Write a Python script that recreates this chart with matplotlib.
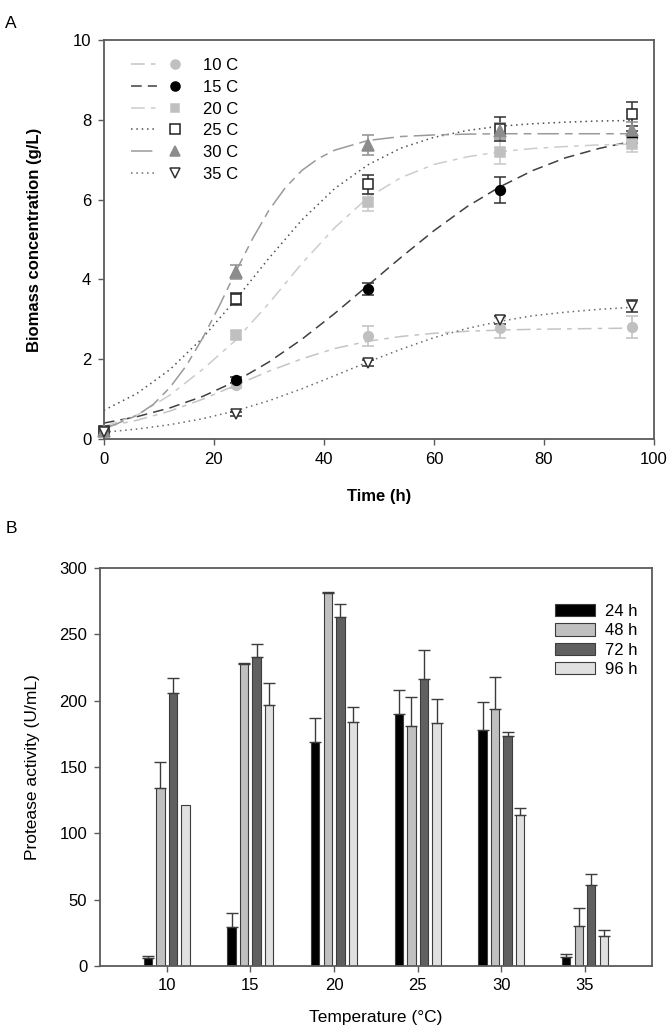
import matplotlib.pyplot as plt
from matplotlib.legend_handler import HandlerTuple
from matplotlib.lines import Line2D
import numpy as np

plt.rcParams['font.family'] = ['Liberation Sans', 'DejaVu Sans']

# ---- Panel A: biomass concentration over time ----
temps = ['10 C', '15 C', '20 C', '25 C', '30 C', '35 C']
time_pts = [0, 24, 48, 72, 96]
biomass = {
    '10 C': [0.20, 1.35, 2.59, 2.78, 2.80],
    '15 C': [0.20, 1.48, 3.75, 6.24, 7.56],
    '20 C': [0.20, 2.60, 5.93, 7.18, 7.39],
    '25 C': [0.20, 3.50, 6.38, 7.76, 8.14],
    '30 C': [0.20, 4.19, 7.37, 7.72, 7.74],
    '35 C': [0.18, 0.63, 1.91, 2.98, 3.34],
}
biomass_err = {
    '10 C': [0.03, 0.06, 0.25, 0.25, 0.28],
    '15 C': [0.03, 0.08, 0.15, 0.33, 0.15],
    '20 C': [0.03, 0.10, 0.22, 0.30, 0.20],
    '25 C': [0.03, 0.15, 0.23, 0.30, 0.30],
    '30 C': [0.03, 0.18, 0.25, 0.20, 0.20],
    '35 C': [0.03, 0.05, 0.07, 0.10, 0.15],
}

# fitted growth curves, every 6 h (every 3 h where steep)
t_fit = [0, 6, 12, 18, 24, 30, 36, 42, 48, 54, 60, 66, 72, 78, 84, 90, 96]
fit_curves = {
    '10 C': [0.30, 0.47, 0.70, 1.00, 1.35, 1.70, 2.01, 2.27, 2.45, 2.57, 2.65, 2.70, 2.73, 2.75, 2.76, 2.77, 2.78],
    '15 C': [0.40, 0.56, 0.78, 1.07, 1.45, 1.93, 2.50, 3.15, 3.85, 4.55, 5.22, 5.82, 6.32, 6.73, 7.05, 7.28, 7.46],
    '20 C': [0.31, 0.60, 1.10, 1.75, 2.48, 3.40, 4.40, 5.30, 6.05, 6.55, 6.88, 7.07, 7.20, 7.28, 7.33, 7.37, 7.39],
    '25 C': [0.72, 1.14, 1.74, 2.54, 3.50, 4.53, 5.49, 6.28, 6.87, 7.29, 7.56, 7.73, 7.84, 7.90, 7.94, 7.97, 7.98],
    '35 C': [0.17, 0.25, 0.36, 0.51, 0.71, 0.96, 1.26, 1.59, 1.93, 2.25, 2.54, 2.77, 2.95, 3.09, 3.18, 3.25, 3.30],
}
t_fit_30 = [0, 6, 9, 12, 15, 18, 21, 24, 27, 30, 33, 36, 39, 42, 48, 54, 60, 66, 72, 84, 96]
fit_30 = [0.25, 0.59, 0.87, 1.29, 1.84, 2.54, 3.34, 4.20, 5.01, 5.73, 6.30, 6.73, 7.03, 7.24, 7.48, 7.58, 7.62, 7.64, 7.65, 7.65, 7.65]

# ---- Panel B: protease activity ----
temp_c = [10, 15, 20, 25, 30, 35]
hours = ['24 h', '48 h', '72 h', '96 h']
protease = {
    '24 h': [6, 29, 169, 190, 178, 6.5],
    '48 h': [134, 228, 281, 181, 193.5, 30],
    '72 h': [206, 233, 263, 216, 173, 61],
    '96 h': [121, 196.5, 184, 183, 114, 22.4],
}
protease_err = {
    '24 h': [1.5, 11, 18, 18, 21, 2.5],
    '48 h': [19.5, 0.5, 1, 22, 24, 13.5],
    '72 h': [11, 10, 10, 22, 3, 8],
    '96 h': [0, 17, 11, 18, 5, 5],
}

# styles
line_style = {
    '10 C': dict(color='#c4c4c4', dashes=(9, 4, 3, 4)),
    '15 C': dict(color='#404040', dashes=(7, 4)),
    '20 C': dict(color='#cccccc', dashes=(9, 4, 3, 4)),
    '25 C': dict(color='#505050', dashes=(1, 2.5)),
    '30 C': dict(color='#9a9a9a', dashes=(14, 4, 5, 4)),
    '35 C': dict(color='#6a6a6a', dashes=(1, 2.5)),
}
marker_style = {
    '10 C': dict(marker='o', mfc='#c0c0c0', mec='#c0c0c0', ms=7, ecolor='#c0c0c0'),
    '15 C': dict(marker='o', mfc='black', mec='black', ms=7, ecolor='#303030'),
    '20 C': dict(marker='s', mfc='#c0c0c0', mec='#c0c0c0', ms=6.5, ecolor='#c8c8c8'),
    '25 C': dict(marker='s', mfc='white', mec='#202020', ms=7, ecolor='#303030'),
    '30 C': dict(marker='^', mfc='#8c8c8c', mec='#8c8c8c', ms=8, ecolor='#909090'),
    '35 C': dict(marker='v', mfc='white', mec='#303030', ms=7.5, ecolor='#303030'),
}
bar_colors = {'24 h': '#000000', '48 h': '#c0c0c0', '72 h': '#606060', '96 h': '#e0e0e0'}
spine_col = '#5a5a5a'

fig = plt.figure(figsize=(6.7, 10.35), dpi=100)
axA = fig.add_axes([0.155, 0.5758, 0.821, 0.3856])
axB = fig.add_axes([0.149, 0.0667, 0.824, 0.3845])

handles = []
for t in temps:
    ls = line_style[t]
    ms = marker_style[t]
    if t == '30 C':
        tx, ty = t_fit_30, fit_30
    else:
        tx, ty = t_fit, fit_curves[t]
    ln, = axA.plot(tx, ty, color=ls['color'], dashes=ls['dashes'], lw=1.1, zorder=2)
    axA.errorbar(time_pts, biomass[t], yerr=biomass_err[t], fmt='none', ecolor=ms['ecolor'],
                 elinewidth=1.1, capsize=4.5, capthick=1.1, zorder=3, clip_on=False)
    axA.plot(time_pts, biomass[t], linestyle='none', marker=ms['marker'], mfc=ms['mfc'],
             mec=ms['mec'], ms=ms['ms'], mew=1.1, zorder=4, clip_on=False)
    mk = Line2D([], [], linestyle='none', marker=ms['marker'], mfc=ms['mfc'], mec=ms['mec'],
                ms=ms['ms'] - 0.5, mew=1.1)
    handles.append((ln, mk))

axA.legend(handles, temps, handler_map={tuple: HandlerTuple(ndivide=None, pad=0.3)},
           loc='upper left', bbox_to_anchor=(0.035, 0.975), frameon=False, fontsize=12,
           handlelength=3.4, handletextpad=0.9, labelspacing=0.4, borderpad=0)

axA.set_xlim(0, 100)
axA.set_ylim(0, 10)
axA.set_xticks([0, 20, 40, 60, 80, 100])
axA.set_yticks([0, 2, 4, 6, 8, 10])
axA.set_xlabel('Time (h)', fontsize=12, fontweight='bold', labelpad=16)
axA.set_ylabel('Biomass concentration (g/L)', fontsize=12, fontweight='bold', labelpad=22)

# bars
offsets = [-1.125, -0.375, 0.375, 1.125]
width = 0.5
x = np.array(temp_c, dtype=float)
for off, h in zip(offsets, hours):
    axB.bar(x + off, protease[h], width=width, color=bar_colors[h], edgecolor='#3c3c3c',
            linewidth=0.8, label=h, zorder=2)
    err = np.array(protease_err[h], dtype=float)
    keep = err > 0
    axB.errorbar((x + off)[keep], np.array(protease[h])[keep],
                 yerr=[np.zeros(keep.sum()), err[keep]], fmt='none',
                 ecolor='#3c3c3c', elinewidth=1.0, capsize=4, capthick=1.0, zorder=3)

axB.set_xlim(6, 39)
axB.set_ylim(0, 300)
axB.set_xticks(temp_c)
axB.set_yticks([0, 50, 100, 150, 200, 250, 300])
axB.set_xlabel('Temperature (\u00b0C)', fontsize=12.5, labelpad=12)
axB.set_ylabel('Protease activity (U/mL)', fontsize=12.5, labelpad=14)
axB.legend(loc='upper left', bbox_to_anchor=(0.81, 0.93), frameon=False, fontsize=12,
           handlelength=2.4, handleheight=0.75, handletextpad=0.6, labelspacing=0.25, borderpad=0)

for ax in (axA, axB):
    for sp in ax.spines.values():
        sp.set_color(spine_col)
        sp.set_linewidth(1.3)
    ax.tick_params(axis='both', direction='out', length=4, width=1, color=spine_col,
                   labelsize=12, pad=5)
    ax.tick_params(top=False, right=False)

fig.text(0.008, 0.985, 'A', fontsize=12.5, va='top')
fig.text(0.008, 0.497, 'B', fontsize=12.5, va='top')

fig.savefig('out.png', dpi=100)
